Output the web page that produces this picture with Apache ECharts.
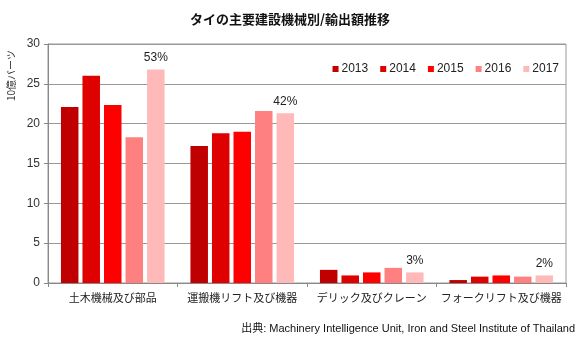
<!DOCTYPE html>
<html><head><meta charset="utf-8">
<script src="https://cdn.jsdelivr.net/npm/echarts@6/dist/echarts.min.js"></script>
<style>html,body{margin:0;padding:0;background:#fff}#c{width:580px;height:348px}</style>
</head><body><div id="c"></div>
<script>
const categories = ['土木機械及び部品', '運搬機リフト及び機器', 'デリック及びクレーン', 'フォークリフト及び機器'];
const years = ['2013', '2014', '2015', '2016', '2017'];
const v2013 = [22.1, 17.2, 1.65, 0.37];
const v2014 = [26.0, 18.8, 0.95, 0.8];
const v2015 = [22.35, 19.0, 1.33, 0.95];
const v2016 = [18.3, 21.6, 1.9, 0.8];
const v2017 = [26.8, 21.3, 1.33, 0.95];
const growthLabels = ['53%', '42%', '3%', '2%'];
const yTicks = [0, 5, 10, 15, 20, 25, 30];
const colors = ['#C00000', '#DF0000', '#FF0000', '#FF8080', '#FFB9B9'];
const seriesValues = [v2013, v2014, v2015, v2016, v2017];

const FONT = '"Liberation Sans", Arial, "Noto Sans CJK JP", sans-serif';
const chart = echarts.init(document.getElementById('c'), null, {renderer: 'canvas'});
const series = years.map((y, i) => ({
  name: y, type: 'bar', data: seriesValues[i],
  barGap: '23%', barCategoryGap: '20%',
  itemStyle: {color: colors[i]},
  label: i === 4 ? {
    show: true, position: 'top', distance: 6,
    formatter: p => growthLabels[p.dataIndex],
    fontFamily: FONT, fontSize: 12, color: '#222'
  } : {show: false}
}));
chart.setOption({
  animation: false,
  textStyle: {fontFamily: FONT},
  title: {
    text: 'タイの主要建設機械別/輸出額推移', left: 'center', top: 8,
    textStyle: {fontSize: 13, fontWeight: 'bold', color: '#111', fontFamily: '"Noto Sans CJK JP", sans-serif'}
  },
  legend: {
    data: years, right: 16, top: 58, itemWidth: 6, itemHeight: 6, itemGap: 12,
    icon: 'rect', textStyle: {fontSize: 12, color: '#222', fontFamily: FONT, padding: [0, 0, 0, -2]}
  },
  grid: {left: 48, right: 14, top: 44, bottom: 65, show: true, borderColor: '#999', borderWidth: 1},
  xAxis: {
    type: 'category', data: categories,
    axisLine: {lineStyle: {color: '#888'}},
    axisTick: {show: true, length: 4, lineStyle: {color: '#888'}},
    axisLabel: {interval: 0, fontSize: 11, color: '#222', margin: 9, fontFamily: '"Noto Sans CJK JP", sans-serif'}
  },
  yAxis: {
    type: 'value', min: yTicks[0], max: yTicks[yTicks.length - 1], interval: 5,
    axisLine: {show: true, lineStyle: {color: '#888'}},
    axisTick: {show: true, length: 4, lineStyle: {color: '#888'}},
    splitLine: {lineStyle: {color: '#999'}},
    axisLabel: {fontSize: 12, color: '#333', margin: 8}
  },
  graphic: [
    {type: 'text', left: 6, top: 50, rotation: Math.PI / 2,
     style: {text: '10億バーツ', fontSize: 10, fill: '#333', fontFamily: '"Noto Sans CJK JP", sans-serif'}},
    {type: 'text', right: 5, top: 323,
     style: {text: '出典: Machinery Intelligence Unit, Iron and Steel Institute of Thailand', fontSize: 11, fill: '#111', fontFamily: FONT}}
  ],
  series: series
});
</script></body></html>
